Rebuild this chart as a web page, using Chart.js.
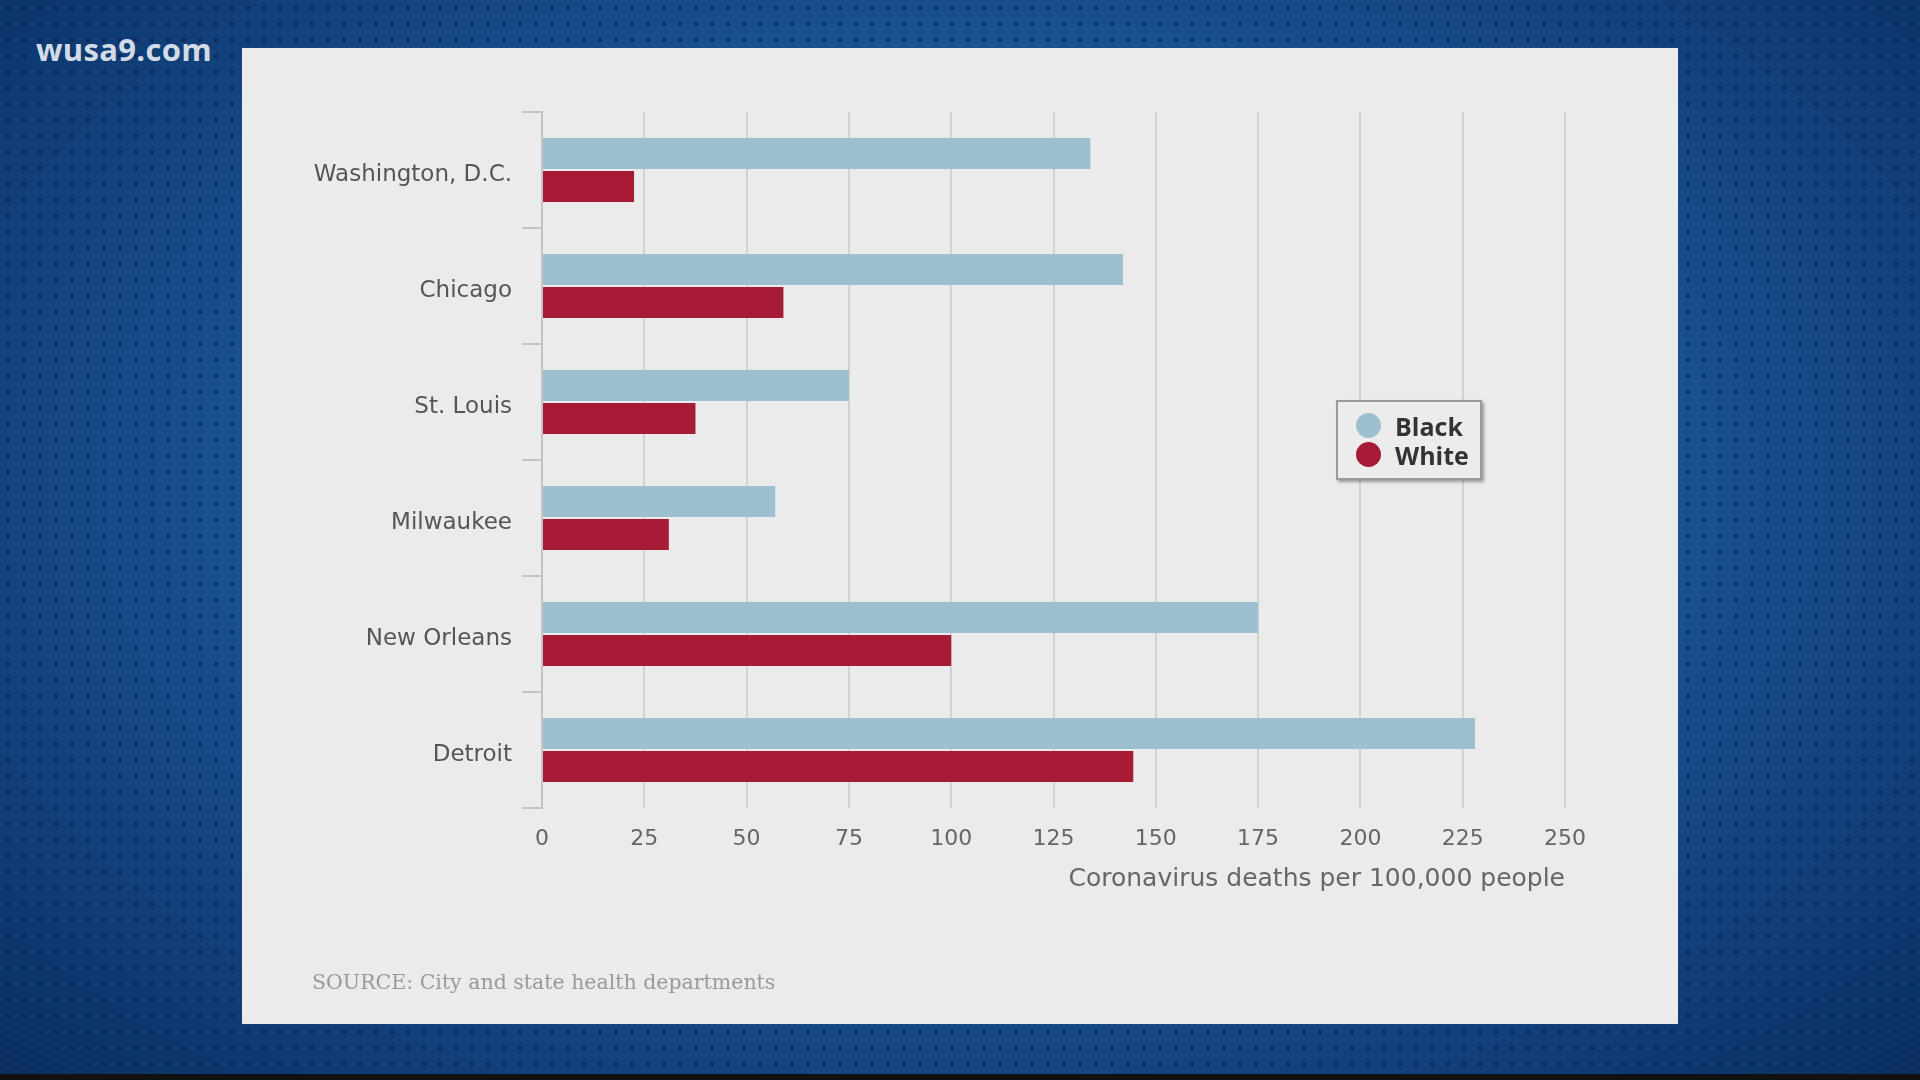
<!DOCTYPE html>
<html>
<head>
<meta charset="utf-8">
<script src="https://cdn.jsdelivr.net/npm/chart.js"></script>
<style>
  html, body { margin: 0; padding: 0; }
  body {
    width: 1920px; height: 1080px; overflow: hidden; position: relative;
    background-color: #174d8c;
    background-image:
      radial-gradient(circle, rgba(8, 25, 70, 0.55) 1.8px, transparent 2.6px),
      radial-gradient(ellipse at 50% 45%, #2f74b8 0%, #1c5799 45%, #0e3a72 85%, #0a2f60 100%);
    background-size: 16px 16px, 100% 100%;
    font-family: "Open Sans", sans-serif;
  }
  #brand {
    position: absolute; left: 36px; top: 28px;
    font: bold 31px "Open Sans", sans-serif; color: #d3dbe6; letter-spacing: 0.3px;
  }
  #panel {
    position: absolute; left: 242px; top: 48px; width: 1436px; height: 976px;
    background: #ebebeb;
  }
  #chartWrap { position: absolute; left: 0; top: 0; width: 1436px; height: 976px; }
  #legend {
    position: absolute; left: 1094px; top: 352px; width: 146px; height: 80px;
    border: 2px solid #9a9a9a; box-shadow: 2px 2px 3px rgba(0,0,0,0.35);
    background: #ececec; box-sizing: border-box; padding: 9px 0 0 18px;
  }
  .item { display: flex; align-items: center; height: 29px; font: bold 25px "Open Sans", sans-serif; color: #333; }
  .dot { width: 25px; height: 25px; border-radius: 50%; margin-right: 14px; }
  #source {
    position: absolute; left: 70px; top: 922px;
    font: 20.5px "DejaVu Serif", serif; color: #999;
  }
  #bottomStrip { position: absolute; left: 0; top: 1074px; width: 1920px; height: 6px; background: #111; }
</style>
</head>
<body>
<div id="brand">wusa9.com</div>
<div id="panel">
  <div id="chartWrap"><canvas id="myChart" width="1436" height="976"></canvas></div>
  <div id="legend"></div>
  <div id="source">SOURCE: City and state health departments</div>
</div>
<div id="bottomStrip"></div>
<script>
// 도시 목록
const cities = ['Washington, D.C.', 'Chicago', 'St. Louis', 'Milwaukee', 'New Orleans', 'Detroit'];

// 인구 10만 명당 사망자 수
const blackDeaths = [134, 142, 75, 57, 175, 228];
const whiteDeaths = [22.5, 59, 37.5, 31, 100, 144.5];

// x축 눈금
const xTicks = [0, 25, 50, 75, 100, 125, 150, 175, 200, 225, 250];

const seriesLabels = ['Black', 'White'];
const seriesColors = ['#9dbfcf', '#a61c37'];

const ctx = document.getElementById('myChart').getContext('2d');
const chart = new Chart(ctx, {
  type: 'bar',
  data: {
    labels: cities,
    datasets: [
      { label: seriesLabels[0], data: blackDeaths, backgroundColor: seriesColors[0] },
      { label: seriesLabels[1], data: whiteDeaths, backgroundColor: seriesColors[1] },
    ],
  },
  options: {
    indexAxis: 'y',
    responsive: false,
    animation: false,
    layout: { padding: { left: 0, right: 113, top: 64, bottom: 126 } },
    datasets: { bar: { categoryPercentage: 0.57, barPercentage: 0.94 } },
    plugins: { legend: { display: false }, tooltip: { enabled: false } },
    scales: {
      x: {
        min: 0, max: 250,
        afterBuildTicks: (scale) => { scale.ticks = xTicks.map(v => ({ value: v })); },
        afterFit: (scale) => { scale.height = 90; },
        border: { display: false },
        grid: { color: '#d2d2d2', lineWidth: 2, drawTicks: false },
        ticks: { padding: 18, color: '#666', font: { family: 'DejaVu Sans', size: 22 } },
        title: {
          display: true, text: 'Coronavirus deaths per 100,000 people', align: 'end',
          color: '#666', font: { family: 'DejaVu Sans', size: 25 }, padding: { top: 2, bottom: 4 },
        },
      },
      y: {
        afterFit: (scale) => { scale.width = 300; },
        border: { display: true, color: '#c4c4c4', width: 2 },
        grid: { offset: true, drawOnChartArea: false, color: '#c4c4c4', lineWidth: 2, tickLength: 20 },
        ticks: { padding: 10, labelOffset: 5, color: '#555', font: { family: 'DejaVu Sans', size: 23 } },
      },
    },
  },
});

// 범례
const legendEl = document.getElementById('legend');
chart.data.datasets.forEach((ds) => {
  const row = document.createElement('div');
  row.className = 'item';
  row.innerHTML = `<span class="dot" style="background:${ds.backgroundColor}"></span>${ds.label}`;
  legendEl.appendChild(row);
});
</script>
</body>
</html>
